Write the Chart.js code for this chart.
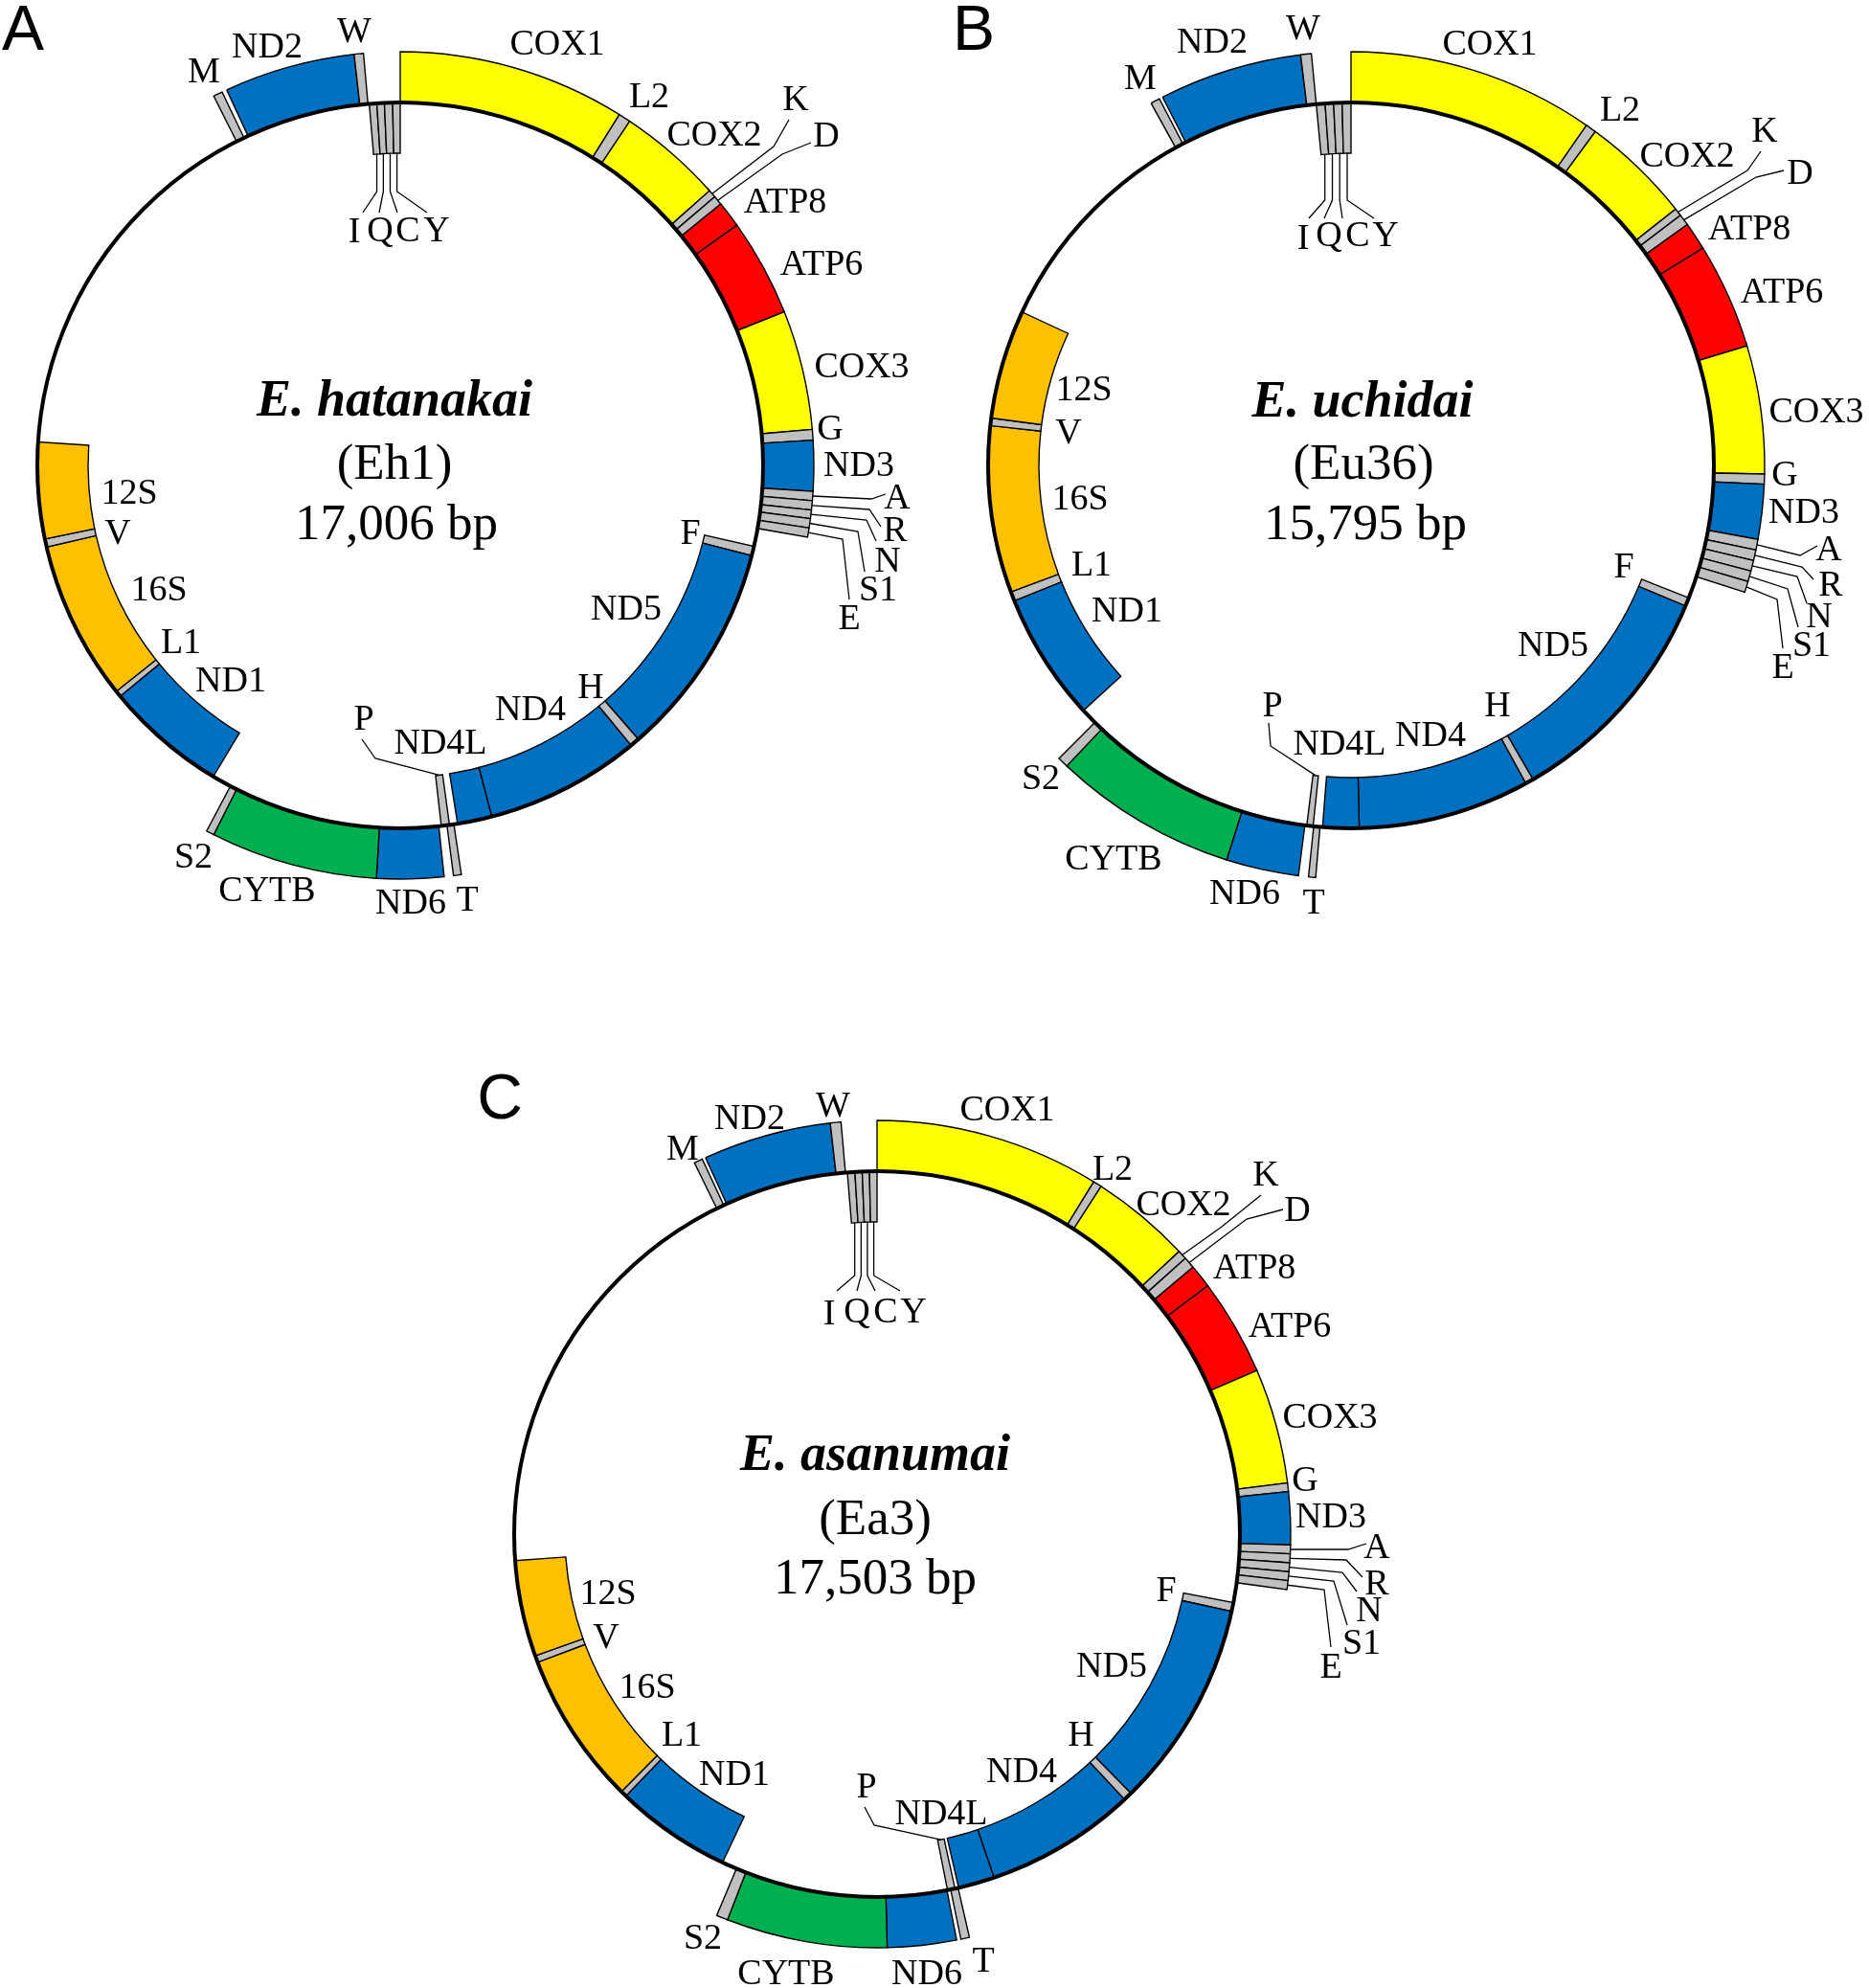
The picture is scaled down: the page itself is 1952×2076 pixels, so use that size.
<!DOCTYPE html>
<html>
<head>
<meta charset="utf-8">
<script src="https://cdn.jsdelivr.net/npm/chart.js@4.4.1/dist/chart.umd.min.js"></script>
<style>
  html, body { margin: 0; padding: 0; background: #fff; }
  body { width: 1952px; height: 2076px; position: relative; overflow: hidden; }
  canvas { position: absolute; }
</style>
</head>
<body>
<canvas id="mapA"></canvas>
<canvas id="mapB"></canvas>
<canvas id="mapC"></canvas>
<script>
// gene order round the circle (clockwise from the top), same in all three genomes
const geneOrder = ["COX1","L2","COX2","K","D","ATP8","ATP6","COX3","G","ND3","A","R","N","S1","E",
  "F","ND5","H","ND4","ND4L","T","P","ND6","CYTB","S2","ND1","L1","16S","V","12S","M","ND2","W","I","Q","C","Y"];
// genes drawn inside the circle, the rest sit outside
const innerGenes = ["I","Q","C","Y","F","ND5","H","ND4","ND4L","P","ND1","L1","16S","V","12S"];

// start / end of each gene, degrees clockwise from the top
const startA = [0,32,33.7,48.4,49.5,50.8,54.5,68.2,85,86.5,93.6,94.9,96.2,97.4,98.7,
  102.9,104.4,139,140.5,165.4,171.5,172.2,173.9,183.3,206.8,211,230.5,231.5,257,258.3,333.2,335.2,353.6,355.1,356.3,357.5,358.8];
const endA = [32,33.7,48.4,49.5,50.8,54.5,68.2,85,86.5,93.6,94.9,96.2,97.4,98.7,100,
  104.4,139,140.5,165.4,170.9,172.6,173.5,183.3,206.8,207.9,230.5,231.5,257,258.3,273.7,334.5,353.6,354.9,356.3,357.5,358.8,360];

const startB = [0,34.7,36.2,51.7,52.8,54.4,58.3,73.2,91.2,92.6,100.3,101.8,103.3,104.8,106.3,
  111.4,112.8,149.9,151.2,178.7,184.9,186.0,187.3,197.5,223.4,227.5,248.1,249.6,276.3,277.5,331.1,332.9,353.0,354.5,355.9,357.25,358.6];
const endB = [34.7,36.2,51.7,52.8,54.4,58.3,73.2,91.2,92.6,100.3,101.8,103.3,104.8,106.3,107.85,
  112.8,149.9,151.2,178.7,184.5,185.9,187.0,197.5,223.4,224.9,248.1,249.6,276.3,277.5,295.0,332.4,353.0,354.5,355.9,357.25,358.6,360];

const startC = [0,31.6,32.8,46.9,48.2,49.8,53.1,66.7,82.9,84.1,91.5,92.74,93.98,95.22,96.46,
  100.9,102.3,135.6,137.0,161.2,167.1,167.6,168.9,178.6,201.2,205.2,223.8,224.8,249.3,250.4,333.8,335.5,353.5,355.3,356.5,357.65,358.8];
const endC = [31.6,32.8,46.9,48.2,49.8,53.1,66.7,82.9,84.1,91.5,92.74,93.98,95.22,96.46,97.7,
  102.3,135.6,137.0,161.2,167.0,168.3,168.8,178.6,201.2,202.8,223.8,224.8,249.3,250.4,265.8,335.0,353.5,355.0,356.5,357.65,358.8,360];

const panelLetters = ["A","B","C"];
const speciesNames = ["E. hatanakai","E. uchidai","E. asanumai"];
const isolateNames = ["(Eh1)","(Eu36)","(Ea3)"];
const genomeSizes = ["17,006 bp","15,795 bp","17,503 bp"];

// colours by gene class
const yellow = "#ffff00", red = "#ff0000", blue = "#0070c0", green = "#00b050", orange = "#ffc000", grey = "#c0c0c0";
const geneColors = {
  COX1: yellow, COX2: yellow, COX3: yellow, ATP6: red, ATP8: red,
  ND1: blue, ND2: blue, ND3: blue, ND4: blue, ND4L: blue, ND5: blue, ND6: blue,
  CYTB: green, "12S": orange, "16S": orange
};

// label placement, px from the circle centre
const labelsA = {
  M:[-205,-410], ND2:[-139,-436], W:[-48,-452], COX1:[164,-439], L2:[260,-384], COX2:[328,-344],
  K:[413,-381], D:[445,-343], ATP8:[402,-274], ATP6:[440,-209], COX3:[482,-102], G:[449,-37], ND3:[479,1],
  A:[519,35], R:[517,69], N:[509,101], S1:[499,131], E:[469,161], F:[303,72], ND5:[236,151], H:[199,233],
  ND4:[136,256], ND4L:[42,291], P:[-38,266], T:[70,455], ND6:[11,458], CYTB:[-139,445], S2:[-216,410],
  ND1:[-177,226], L1:[-229,186], "16S":[-252,131], V:[-295,72], "12S":[-283,30],
  I:[-48,-243], Q:[-21,-244], C:[8,-244], Y:[38,-244]
};
const labelsB = {
  M:[-220,-403], ND2:[-145,-441], W:[-50,-455], COX1:[145,-439], L2:[281,-370], COX2:[351,-322],
  K:[432,-348], D:[469,-304], ATP8:[416,-246], ATP6:[450,-180], COX3:[486,-55], G:[453,11], ND3:[473,50],
  A:[499,89], R:[501,126], N:[489,159], S1:[481,189], E:[451,212], F:[285,107], ND5:[211,189], H:[153,252],
  ND4:[83,283], ND4L:[-12,292], P:[-82,252], T:[-39,458], ND6:[-111,448], CYTB:[-248,412], S2:[-324,328],
  ND1:[-234,153], L1:[-271,105], "16S":[-283,36], V:[-295,-33], "12S":[-279,-78],
  I:[-50,-236], Q:[-23,-239], C:[7,-239], Y:[36,-239]
};
const labelsC = {
  M:[-203,-401], ND2:[-133,-433], W:[-46,-446], COX1:[136,-442], L2:[246,-380], COX2:[320,-343],
  K:[406,-374], D:[439,-337], ATP8:[394,-277], ATP6:[431,-216], COX3:[473,-121], G:[447,-55], ND3:[474,-17],
  A:[522,15], R:[522,53], N:[514,81], S1:[506,115], E:[474,140], F:[302,60], ND5:[245,139], H:[213,211],
  ND4:[151,249], ND4L:[67,293], P:[-11,265], T:[111,447], ND6:[52,460], CYTB:[-95,460], S2:[-182,423],
  ND1:[-149,252], L1:[-204,211], "16S":[-240,161], V:[-283,109], "12S":[-281,63],
  I:[-50,-229], Q:[-21,-231], C:[9,-231], Y:[38,-231]
};

// leader lines: knee x, knee y (x null = straight down), end x, end y
const leadersA = {
  K:[390,-333,406,-361], D:[399,-325,429,-337],
  A:[492,35,507,30], R:[490,46,502,64], N:[487,57,497,79], S1:[478,69,485,111], E:[462,77,469,140],
  P:[-26,306,-40,286],
  I:[null,-286,-39,-264], Q:[null,-286,-22,-264], C:[null,-286,-3,-264], Y:[null,-286,28,-264]
};
const leadersB = {
  K:[414,-308,428,-328], D:[423,-301,452,-308],
  A:[469,94,487,84], R:[471,106,483,119], N:[466,116,476,144], S1:[456,129,467,169], E:[445,140,451,191],
  P:[-84,293,-86,269],
  I:[null,-277,-44,-258], Q:[null,-277,-28,-258], C:[null,-277,-9,-258], Y:[null,-277,24,-258]
};
const leadersC = {
  K:[360,-321,401,-354], D:[386,-329,424,-339],
  A:[492,16,511,10], R:[490,27,507,45], N:[486,40,501,60], S1:[477,49,491,95], E:[467,58,474,118],
  P:[-3,304,-13,285],
  I:[null,-270,-42,-254], Q:[null,-270,-21,-254], C:[null,-270,-2,-254], Y:[null,-270,24,-254]
};

const titleOffsets = [
  [[-6,-66],[-6,0],[-4,63]],
  [[12,-65],[13,0],[15,63]],
  [[-2,-81],[-2,-14],[-2,48]]
];

const panels = [
  { id: "mapA", cx: 418, cy: 486, starts: startA, ends: endA, labels: labelsA, leaders: leadersA },
  { id: "mapB", cx: 1411, cy: 486, starts: startB, ends: endB, labels: labelsB, leaders: leadersB },
  { id: "mapC", cx: 916, cy: 1602, starts: startC, ends: endC, labels: labelsC, leaders: leadersC }
];

const halfW = 550, halfH = 500;
const outerR = 432, innerR = 326;
const serif = "'Liberation Serif', 'Times New Roman', serif";

function ringOf(name) {
  return innerGenes.includes(name) ? 1 : 0;
}

function buildRing(starts, ends, ring) {
  const order = geneOrder.map((g, i) => i)
    .filter(i => ringOf(geneOrder[i]) === ring)
    .sort((a, b) => starts[a] - starts[b]);
  const data = [], colors = [], widths = [], names = [];
  let cursor = 0;
  order.forEach(i => {
    const s = Math.max(starts[i], cursor);
    if (s - cursor > 0.001) {
      data.push(s - cursor); colors.push("rgba(0,0,0,0)"); widths.push(0); names.push(null);
    }
    data.push(ends[i] - s);
    colors.push(geneColors[geneOrder[i]] || grey);
    widths.push(1.4);
    names.push(geneOrder[i]);
    cursor = ends[i];
  });
  if (360 - cursor > 0.001) {
    data.push(360 - cursor); colors.push("rgba(0,0,0,0)"); widths.push(0); names.push(null);
  }
  return {
    data, names,
    backgroundColor: colors,
    borderColor: "#000",
    borderWidth: widths,
    borderJoinStyle: "miter",
    hoverOffset: 0
  };
}

const mapPlugin = {
  id: "genomeMap",
  afterDatasetsDraw(chart) {
    const p = chart.options.plugins.genomeMap;
    const ctx = chart.ctx;
    const outerArcs = chart.getDatasetMeta(0).data;
    const innerArcs = chart.getDatasetMeta(1).data;
    const cx = outerArcs[0].x, cy = outerArcs[0].y;
    const rMid = outerArcs[0].innerRadius;

    ctx.save();
    // the genome circle
    ctx.beginPath();
    ctx.arc(cx, cy, rMid, 0, Math.PI * 2);
    ctx.lineWidth = 4;
    ctx.strokeStyle = "#000";
    ctx.stroke();

    // leader lines from small tRNA blocks to their labels
    ctx.lineWidth = 1.3;
    Object.keys(p.leaders).forEach(name => {
      const ring = ringOf(name);
      const arcs = ring ? innerArcs : outerArcs;
      const names = chart.data.datasets[ring].names;
      const el = arcs[names.indexOf(name)];
      if (!el) return;
      const a = (el.startAngle + el.endAngle) / 2;
      const r = ring ? el.innerRadius : el.outerRadius;
      const sx = cx + r * Math.cos(a), sy = cy + r * Math.sin(a);
      const [kx, ky, ex, ey] = p.leaders[name];
      ctx.beginPath();
      ctx.moveTo(sx, sy);
      ctx.lineTo(kx === null ? sx : cx + kx, cy + ky);
      ctx.lineTo(cx + ex, cy + ey);
      ctx.stroke();
    });

    // gene labels
    ctx.fillStyle = "#000";
    ctx.textAlign = "center";
    ctx.textBaseline = "middle";
    ctx.font = "38px " + serif;
    Object.keys(p.labels).forEach(name => {
      const [dx, dy] = p.labels[name];
      ctx.fillText(name, cx + dx, cy + dy);
    });

    // centre titles
    const t = p.titles;
    ctx.font = "italic bold 54px " + serif;
    ctx.fillText(p.species, cx + t[0][0], cy + t[0][1]);
    ctx.font = "53px " + serif;
    ctx.fillText(p.isolate, cx + t[1][0], cy + t[1][1]);
    ctx.fillText(p.size, cx + t[2][0], cy + t[2][1]);

    // panel letter
    ctx.font = "66px 'Liberation Sans', Arial, sans-serif";
    ctx.fillText(p.letter, cx - 394, cy - 452);
    ctx.restore();
  }
};

panels.forEach((panel, k) => {
  const canvas = document.getElementById(panel.id);
  canvas.width = halfW * 2;
  canvas.height = halfH * 2;
  canvas.style.left = (panel.cx - halfW) + "px";
  canvas.style.top = (panel.cy - halfH) + "px";

  const outerRing = buildRing(panel.starts, panel.ends, 0);
  const innerRing = buildRing(panel.starts, panel.ends, 1);

  new Chart(canvas.getContext("2d"), {
    type: "doughnut",
    data: {
      labels: outerRing.names.map(n => n || ""),
      datasets: [outerRing, innerRing]
    },
    options: {
      responsive: false,
      devicePixelRatio: 1,
      animation: false,
      events: [],
      radius: outerR,
      cutout: (innerR / outerR * 100) + "%",
      rotation: 0,
      circumference: 360,
      spacing: 0,
      layout: { padding: 0 },
      plugins: {
        legend: { display: false },
        tooltip: { enabled: false },
        genomeMap: {
          labels: panel.labels,
          leaders: panel.leaders,
          titles: titleOffsets[k],
          species: speciesNames[k],
          isolate: isolateNames[k],
          size: genomeSizes[k],
          letter: panelLetters[k]
        }
      }
    },
    plugins: [mapPlugin]
  });
});
</script>
</body>
</html>
